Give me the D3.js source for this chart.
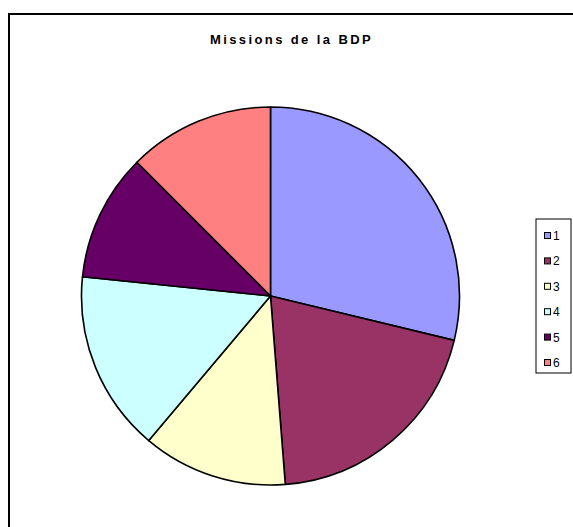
<!DOCTYPE html>
<html><head><meta charset="utf-8">
<script src="https://cdn.jsdelivr.net/npm/d3@7"></script>
<style>body{margin:0;background:#fff}svg{display:block}</style>
</head><body>
<svg id="c" width="573" height="527"></svg>
<script>
const categories = ["1","2","3","4","5","6"];
const values = [28.8, 20.0, 12.4, 15.5, 10.9, 12.5];
const colors = ["#9999FF","#993366","#FFFFCC","#CCFFFF","#660066","#FF8080"];
const title = "Missions de la BDP";

const svg = d3.select("#c");
const font = "'Liberation Sans', Arial, sans-serif";

// outer frame (extends beyond right/bottom)
svg.append("path").attr("d","M9,600 L9,14 L600,14")
  .attr("fill","none").attr("stroke","#000").attr("stroke-width",2);

svg.append("text").attr("x",291.5).attr("y",44)
  .attr("text-anchor","middle").attr("font-family",font)
  .attr("font-weight","bold").attr("font-size",13).attr("letter-spacing",2.4)
  .text(title);

const cx = 270.5, cy = 296, r = 189;
const pie = d3.pie().sort(null).value(d=>d.v);
const data = pie(categories.map((c,i)=>({c, v: values[i]})));
const arc = d3.arc().innerRadius(0).outerRadius(r);
const color = d3.scaleOrdinal().domain(categories).range(colors);

svg.append("g").attr("transform",`translate(${cx},${cy})`)
  .selectAll("path").data(data).join("path")
  .attr("d",arc).attr("fill",d=>color(d.data.c))
  .attr("stroke","#000").attr("stroke-width",1.6).attr("stroke-linejoin","round");

// legend
const lg = svg.append("g");
lg.append("rect").attr("x",536).attr("y",219).attr("width",35).attr("height",154)
  .attr("fill","#fff").attr("stroke","#000").attr("stroke-width",1);
const ly = d3.scalePoint().domain(categories).range([235.5,362.5]);
const items = lg.selectAll("g.it").data(categories).join("g").attr("class","it")
  .attr("transform",d=>`translate(0,${ly(d)})`);
items.append("rect").attr("x",544.5).attr("y",-3).attr("width",6).attr("height",6)
  .attr("fill",d=>color(d)).attr("stroke","#000").attr("stroke-width",1);
items.append("text").attr("x",553).attr("y",4.5).attr("font-family",font)
  .attr("font-size",12).text(d=>d);
</script>
</body></html>
